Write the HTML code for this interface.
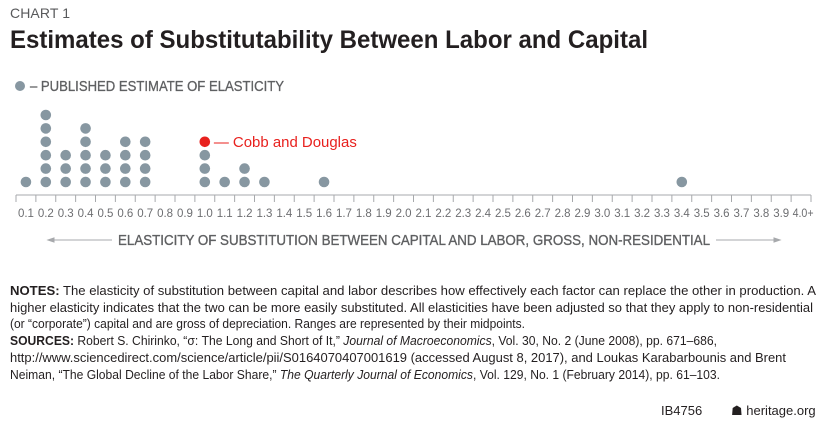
<!DOCTYPE html>
<html><head><meta charset="utf-8"><style>
body{margin:0;background:#fff}
svg{display:block;font-family:"Liberation Sans",sans-serif}
</style></head><body>
<svg width="825" height="423" viewBox="0 0 825 423">
<text x="10" y="18" font-size="14" fill="#58595b" textLength="60">CHART 1</text>
<text x="10" y="48" font-size="25" font-weight="bold" fill="#231f20" textLength="638" lengthAdjust="spacingAndGlyphs">Estimates of Substitutability Between Labor and Capital</text>
<circle cx="20" cy="86" r="5" fill="#8797a1"/>
<text x="30" y="91" font-size="14.5" fill="#5f6062" stroke="#5f6062" stroke-width="0.3" textLength="254" lengthAdjust="spacingAndGlyphs">– PUBLISHED ESTIMATE OF ELASTICITY</text>
<g id="plot"></g>
<text x="118" y="245" font-size="15" fill="#5f6062" stroke="#5f6062" stroke-width="0.35" textLength="592" lengthAdjust="spacingAndGlyphs">ELASTICITY OF SUBSTITUTION BETWEEN CAPITAL AND LABOR, GROSS, NON-RESIDENTIAL</text>
<g stroke="#a7a9ac" stroke-width="1">
<line x1="48" y1="240" x2="112" y2="240"/><path d="M48 240 l6 -2 v4 z" fill="#a7a9ac"/>
<line x1="716" y1="240" x2="780" y2="240"/><path d="M780 240 l-6 -2 v4 z" fill="#a7a9ac"/>
</g>
<g font-size="13" fill="#231f20">
<text x="10" y="295" textLength="806" lengthAdjust="spacingAndGlyphs"><tspan font-weight="bold">NOTES:</tspan> The elasticity of substitution between capital and labor describes how effectively each factor can replace the other in production. A</text>
<text x="10" y="312" textLength="803" lengthAdjust="spacingAndGlyphs">higher elasticity indicates that the two can be more easily substituted. All elasticities have been adjusted so that they apply to non-residential</text>
<text x="10" y="328" textLength="515" lengthAdjust="spacingAndGlyphs">(or “corporate”) capital and are gross of depreciation. Ranges are represented by their midpoints.</text>
<text x="10" y="345" textLength="707" lengthAdjust="spacingAndGlyphs"><tspan font-weight="bold">SOURCES:</tspan> Robert S. Chirinko, “σ: The Long and Short of It,” <tspan font-style="italic">Journal of Macroeconomics</tspan>, Vol. 30, No. 2 (June 2008), pp. 671–686,</text>
<text x="10" y="362" textLength="776" lengthAdjust="spacingAndGlyphs">http://www.sciencedirect.com/science/article/pii/S0164070407001619 (accessed August 8, 2017), and Loukas Karabarbounis and Brent</text>
<text x="10" y="379" textLength="710" lengthAdjust="spacingAndGlyphs">Neiman, “The Global Decline of the Labor Share,” <tspan font-style="italic">The Quarterly Journal of Economics</tspan>, Vol. 129, No. 1 (February 2014), pp. 61–103.</text>
</g>
<text x="661" y="415" font-size="13" fill="#231f20">IB4756</text>
<text x="731" y="415" font-size="13" fill="#231f20">☗ heritage.org</text>
</svg>
<script>
const tickLabels = ["0.1","0.2","0.3","0.4","0.5","0.6","0.7","0.8","0.9","1.0","1.1","1.2","1.3","1.4","1.5","1.6","1.7","1.8","1.9","2.0","2.1","2.2","2.3","2.4","2.5","2.6","2.7","2.8","2.9","3.0","3.1","3.2","3.3","3.4","3.5","3.6","3.7","3.8","3.9","4.0+"];
const estimateValues = [0.1,0.2,0.3,0.4,0.5,0.6,0.7,1.0,1.1,1.2,1.3,1.6,3.4];
const estimateCounts = [1,6,3,5,3,4,4,3,1,2,1,1,1];
const cobbDouglasValue = 1.0;
const NS='http://www.w3.org/2000/svg';
const g=document.getElementById('plot');
const x0=16, step=19.875, axisY=195;
function xScale(v){return x0+(Math.round(v*10)-0.5)*step;}
function yScale(i){return 182-i*13.4;}
function mk(t,a){const e=document.createElementNS(NS,t);for(const k in a)e.setAttribute(k,a[k]);g.appendChild(e);return e;}
const ax=mk('line',{x1:x0,y1:axisY,x2:x0+40*step,y2:axisY,stroke:'#a7a9ac'});


for(let i=0;i<=40;i++){
  const t=mk('line',{x1:x0+i*step,y1:axisY,x2:x0+i*step,y2:axisY+7,stroke:'#a7a9ac'});
  
  
}
tickLabels.forEach((s,i)=>{
  const t=mk('text',{x:x0+(i+0.5)*step+(s.length>3?2:0),y:217,'text-anchor':'middle','font-size':'11.5',fill:'#6d6e71',textLength:s.length>3?21:16,lengthAdjust:'spacingAndGlyphs'});
  t.textContent=s;
  
  
});
estimateValues.forEach((v,k)=>{
  for(let i=0;i<estimateCounts[k];i++){
    const c=mk('circle',{cx:xScale(v),cy:yScale(i),r:5.3,fill:'#8797a1'});
    
    
  }
});
const cdIdx=estimateValues.indexOf(cobbDouglasValue);
const cdY=yScale(cdIdx>=0?estimateCounts[cdIdx]:0);
const cd=mk('circle',{cx:xScale(cobbDouglasValue),cy:cdY,r:5.3,fill:'#e8211e'});


const cl=mk('text',{x:xScale(cobbDouglasValue)+9,y:cdY+5,'font-size':'15',fill:'#e8211e',textLength:143,lengthAdjust:'spacingAndGlyphs'});
cl.textContent='— Cobb and Douglas';


</script>
</body></html>
